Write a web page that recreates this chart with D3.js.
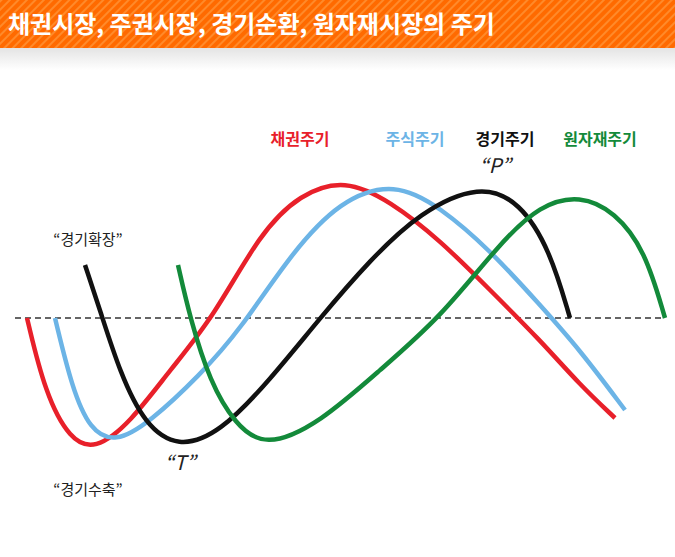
<!DOCTYPE html>
<html><head><meta charset="utf-8">
<script src="https://cdn.jsdelivr.net/npm/d3@7"></script>
<style>body{margin:0;background:#fff}svg{display:block}text{font-family:"Noto Sans CJK KR",sans-serif}</style>
</head><body><svg id="c" width="675" height="557"></svg>
<script>
// time (x) / level above the zero line (y)
var redCycle = [[27,0],[45,-75],[70,-122],[95,-132],[130,-105],[170,-52],[213,0],[260,85],[300,124],[345,139],[390,117],[440,78],[490,28],[540,-22],[580,-67],[615,-100]];
var blueCycle = [[55,0],[72,-70],[90,-112],[115,-125],[150,-104],[200,-57],[240,-12],[290,63],[340,118],[395,136],[440,111],[490,68],[540,13],[580,-32],[625,-92]];
var blackCycle = [[85,53],[100,8],[120,-55],[145,-107],[178,-130],[220,-115],[270,-62],[320,0],[370,58],[420,106],[480,134],[520,116],[550,68],[570,0]];
var greenCycle = [[178,53],[190,0],[210,-64],[235,-106],[265,-130],[320,-105],[380,-52],[440,0],[500,75],[540,113],[580,123],[615,106],[645,68],[665,0]];
var series = [
  {name:"채권주기", color:"#e8202a", pts:redCycle, lx:300},
  {name:"주식주기", color:"#6cb4e6", pts:blueCycle, lx:415},
  {name:"경기주기", color:"#111111", pts:blackCycle, lx:505},
  {name:"원자재주기", color:"#138a3a", pts:greenCycle, lx:600}
];
var notes = [["“경기확장”",88,245,false],["“경기수축”",88,495,false],["“T”",180,470,true],["“P”",495,173,true]];

var svg = d3.select("#c");
var x = d3.scaleLinear().domain([0,675]).range([0,675]);
var y = d3.scaleLinear().domain([-239,318]).range([557,0]);

// banner
var defs = svg.append("defs");
var pat = defs.append("pattern").attr("id","st").attr("width",6).attr("height",6)
  .attr("patternUnits","userSpaceOnUse").attr("patternTransform","rotate(45)");
pat.append("rect").attr("width",6).attr("height",6).attr("fill","#ff6a00");
pat.append("rect").attr("width",2).attr("height",6).attr("fill","#ff8a2a");
var g = defs.append("linearGradient").attr("id","gr").attr("x1",0).attr("y1",0).attr("x2",0).attr("y2",1);
g.append("stop").attr("offset",0).attr("stop-color","#e4e4e4");
g.append("stop").attr("offset",1).attr("stop-color","#ffffff");
svg.append("rect").attr("width",675).attr("height",48).attr("fill","url(#st)");
svg.append("rect").attr("y",48).attr("width",675).attr("height",22).attr("fill","url(#gr)");
svg.append("text").attr("x",8).attr("y",33).attr("fill","#fff").attr("font-size",24)
  .attr("font-weight","bold").text("채권시장, 주권시장, 경기순환, 원자재시장의 주기");

svg.append("line").attr("x1",x(15)).attr("x2",x(665)).attr("y1",y(0)).attr("y2",y(0))
  .attr("stroke","#333").attr("stroke-width",1.5).attr("stroke-dasharray","6,4");

var line = d3.line().x(d=>x(d[0])).y(d=>y(d[1])).curve(d3.curveBasis);
svg.selectAll("path.cy").data(series).join("path").attr("class","cy")
  .attr("d",d=>line(d.pts)).attr("fill","none").attr("stroke",d=>d.color).attr("stroke-width",4.5);

svg.selectAll("text.lg").data(series).join("text").attr("class","lg")
  .attr("x",d=>d.lx).attr("y",145).attr("text-anchor","middle").attr("font-size",16)
  .attr("font-weight","bold").attr("fill",d=>d.color).text(d=>d.name);

svg.selectAll("text.nt").data(notes).join("text").attr("class","nt")
  .attr("x",d=>d[1]).attr("y",d=>d[2]).attr("text-anchor","middle")
  .attr("font-size",d=>d[3]?20:15).attr("font-style",d=>d[3]?"italic":null)
  .attr("fill","#222").text(d=>d[0]);
</script></body></html>
